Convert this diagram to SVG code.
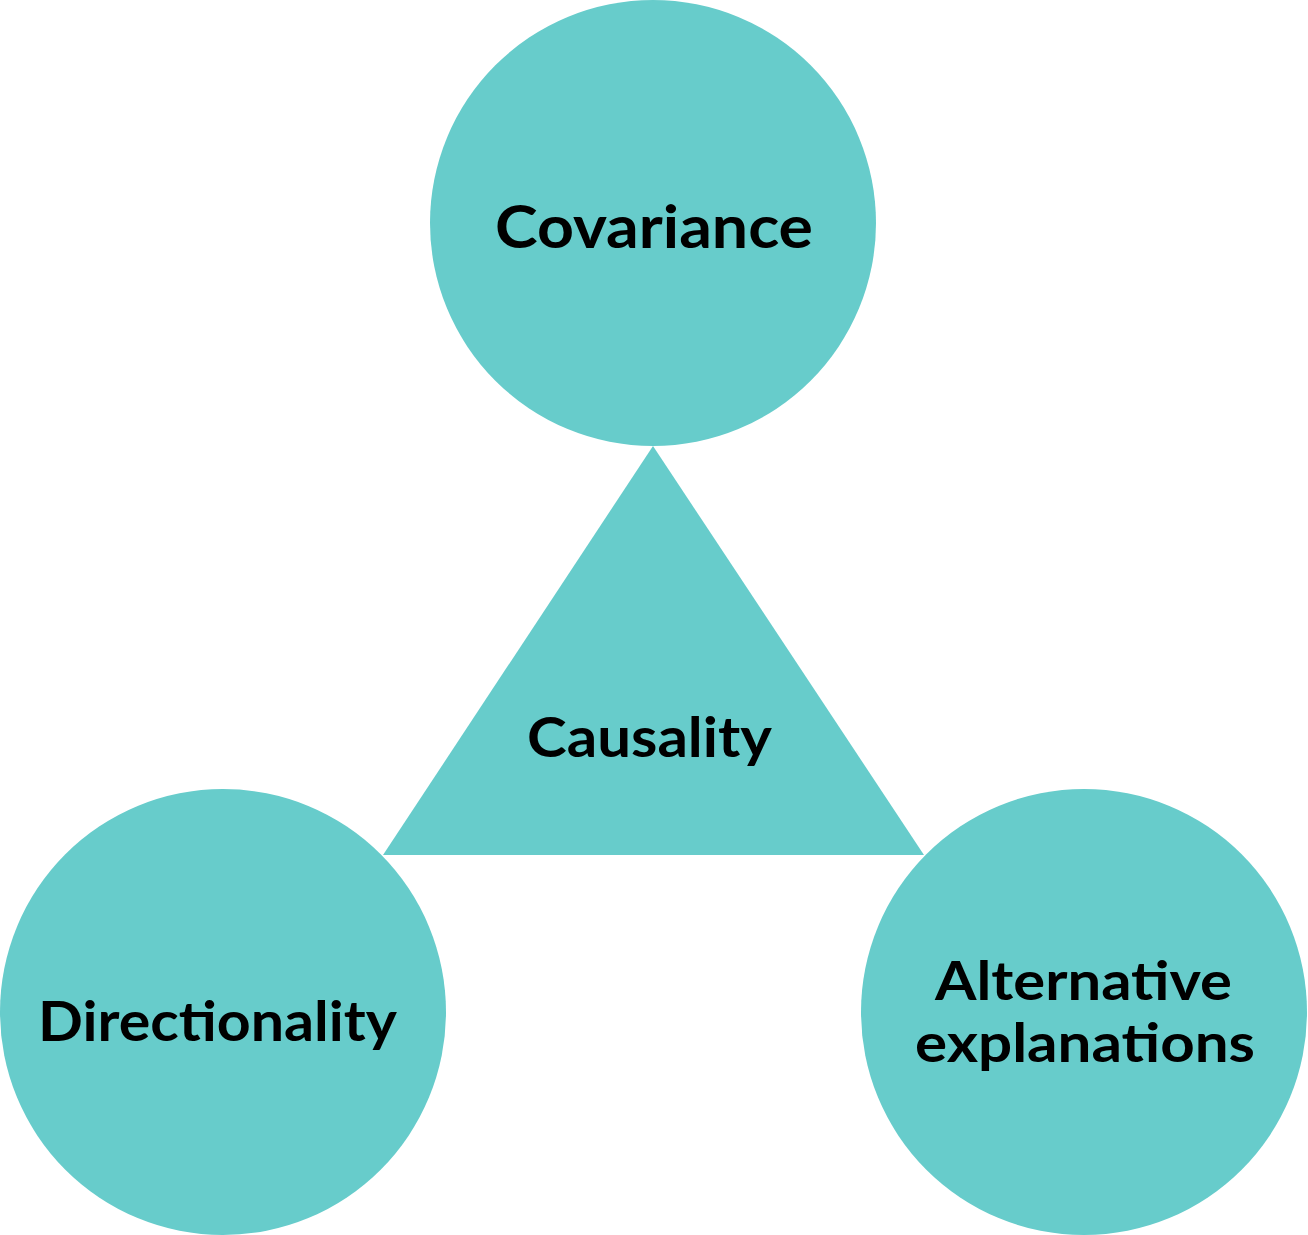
<svg xmlns="http://www.w3.org/2000/svg" width="1308" height="1235" viewBox="0 0 1308 1235">
<style>
.shape{fill:#67cccb;}
.lbl{font-family:Lato,"Open Sans","Liberation Sans",sans-serif;font-weight:700;fill:#000;text-anchor:middle;}
</style>
<rect width="1308" height="1235" fill="#ffffff"/>
<g id="connectors"></g>
<g id="causality">
<polygon class="shape" points="653,446 383,855 924,855"/>
<text class="lbl" x="649.5" y="757" font-size="56" textLength="245" lengthAdjust="spacingAndGlyphs">Causality</text>
</g>
<g id="covariance">
<circle class="shape" cx="653" cy="223" r="223"/>
<text class="lbl" x="654" y="248" font-size="59" textLength="318" lengthAdjust="spacingAndGlyphs">Covariance</text>
</g>
<g id="directionality">
<circle class="shape" cx="223" cy="1012" r="223"/>
<text class="lbl" x="217.5" y="1041" font-size="56" textLength="359" lengthAdjust="spacingAndGlyphs">Directionality</text>
</g>
<g id="alternative">
<circle class="shape" cx="1084" cy="1012" r="223"/>
<text class="lbl" x="1083.5" y="1000" font-size="53" textLength="297" lengthAdjust="spacingAndGlyphs">Alternative</text>
<text class="lbl" x="1085" y="1062" font-size="53" textLength="340" lengthAdjust="spacingAndGlyphs">explanations</text>
</g>
</svg>
